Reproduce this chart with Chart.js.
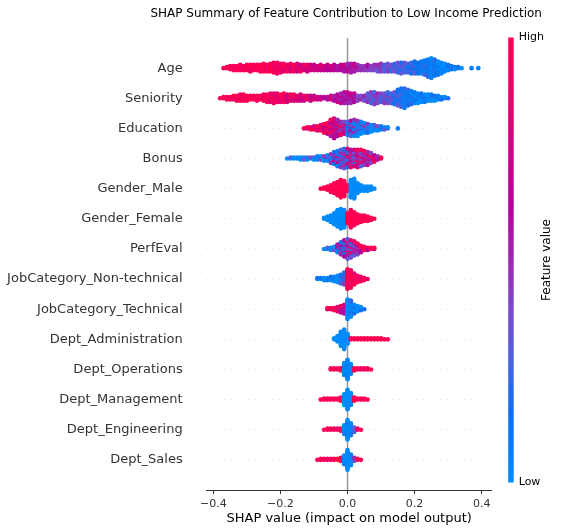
<!DOCTYPE html>
<html>
<head>
<meta charset="utf-8">
<script src="https://cdn.jsdelivr.net/npm/chart.js@4.4.1/dist/chart.umd.min.js"></script>
<style>
  html, body { margin: 0; padding: 0; background: #fff; }
  canvas { display: block; }
</style>
</head>
<body>
<canvas id="shapChart" width="563" height="531"></canvas>
<script>
// feature order, top to bottom
const features = [
    'Age', 'Seniority', 'Education', 'Bonus', 'Gender_Male', 'Gender_Female', 'PerfEval',
    'JobCategory_Non-technical', 'JobCategory_Technical', 'Dept_Administration',
    'Dept_Operations', 'Dept_Management', 'Dept_Engineering', 'Dept_Sales'
];
const xTicks = [-0.4, -0.2, 0, 0.2, 0.4];
const binWidth = 0.01;
// SHAP value of the first bin of each row
const firstBin = [-0.37, -0.38, -0.13, -0.18, -0.08, -0.07, -0.07, -0.09, -0.06, -0.04, -0.05, -0.08, -0.07, -0.09];
// how mixed the colours are inside one bin (0 = all the same)
const colorMix = [0.1, 0.12, 0.3, 0.35, 0, 0, 0.35, 0.15, 0.2, 0, 0.1, 0, 0.1, 0.1];

// how many dots are stacked in each 0.01 bin, and their feature value (0 = low, 1 = high)
const ageCounts = [1,2,4,5,5,6,5,6,7,6, 6,7,8,7,8,10,11,9,8,7, 8,7,8,7,6,7,6,6,5,6,
    5,6,5,6,5,6,7,8,9,8, 6,5,5,6,5,6,7,8,7,8, 7,8,10,11,10,9,11,12,11,12,
    14,17,19,16,13,11,8,6,4,3, 2,1,0,0,1,0,1];
const ageValues = [1,1,1,1,1,1,1,1,1,1, 1,1,1,1,1,0.95,0.95,0.95,0.9,0.9,
    0.9,0.9,0.85,0.85,0.85,0.8,0.8,0.8,0.8,0.75, 0.75,0.7,0.7,0.7,0.65,0.65,0.65,0.6,0.6,0.6,
    0.55,0.55,0.5,0.5,0.45,0.45,0.4,0.4,0.35,0.35, 0.3,0.3,0.3,0.25,0.25,0.2,0.2,0.2,0.15,0.15,
    0.15,0.1,0.1,0.1,0.05,0.05,0.05,0.05,0.05,0.05, 0.05,0.05,0,0,0,0,0];

const seniorityCounts = [1,2,3,3,4,5,6,6,5,4, 4,5,4,6,7,8,9,8,7,8, 7,6,6,5,6,5,4,5,4,3,
    3,2,3,4,5,7,9,10,10,9, 8,5,4,5,8,10,11,9,8,9, 10,9,11,14,16,17,14,12,10,9,
    8,7,6,6,5,4,3,2,1];
const seniorityValues = [1,1,1,1,1,1,1,1,1,1, 1,1,1,1,0.95,0.95,0.95,0.9,0.9,0.9,
    0.85,0.85,0.85,0.85,0.8,0.8,0.8,0.8,0.75,0.75, 0.75,0.7,0.7,0.7,0.65,0.6,0.6,0.6,0.6,0.6,
    0.55,0.5,0.45,0.4,0.4,0.35,0.35,0.4,0.35,0.35, 0.3,0.35,0.25,0.2,0.15,0.15,0.1,0.1,0.1,0.1,
    0.05,0.05,0.05,0.05,0.05,0.05,0.05,0.05,0.05];

const educationCounts = [1,2,3,4,5,6,9,11,16,19, 16,13,12,13,15,16,15,12,10,9, 7,6,5,4,3,2,0,0,1];
const educationValues = [1,1,1,1,1,1,0.95,0.9,0.85,0.8, 0.75,0.65,0.55,0.4,0.3,0.25,0.25,0.2,0.2,0.15,
    0.15,0.1,0.1,0.1,0.05,0.05,0,0,0.05];

const bonusCounts = [1,2,2,2,3,3,3,2,3,4, 4,5,6,9,12,15,17,19,18,17, 16,17,16,14,13,10,7,4,2];
const bonusValues = [0,0,0,0,0,0,0.05,0.05,0.05,0.05, 0.1,0.15,0.2,0.3,0.35,0.4,0.45,0.5,0.5,0.55,
    0.6,0.6,0.65,0.7,0.7,0.75,0.8,0.85,0.9];

const genderMaleCounts = [1,2,4,7,10,13,17,15,6,17,19,10,6,5,5,4,1];
const genderMaleValues = [1,1,1,1,1,1,1,1,1,0,0,0,0,0,0,0,0];

const genderFemaleCounts = [2,4,7,11,16,19,17,10,17,13,9,7,6,5,3,1];
const genderFemaleValues = [0,0,0,0,0,0,0,1,1,1,1,1,1,1,1,1];

const perfEvalCounts = [1,2,3,4,8,12,16,19,17,14,11,7,4,3,2,2];
const perfEvalValues = [0,0,0.05,0.1,0.25,0.35,0.45,0.5,0.55,0.6,0.7,0.8,0.85,0.9,1,1];

const jobNonTechCounts = [2,2,3,3,4,5,7,9,12,19,17,11,7,5,3,1];
const jobNonTechValues = [0,0,0,0,0,0,0,0.1,0.3,1,1,1,1,1,1,1];

const jobTechCounts = [2,2,3,5,7,9,19,16,9,6,4,1];
const jobTechValues = [1,1,1,1,0.7,0.6,0,0,0,0,0,0];

const deptAdminCounts = [2,6,14,19,10,2,2,2,2,2,2,2,2,2,2,1,1];
const deptAdminValues = [0,0,0,0,0,1,1,1,1,1,1,1,1,1,1,1,1];

const deptOpsCounts = [2,2,2,3,12,19,10,3,2,2,2,2,1];
const deptOpsValues = [1,1,1,1,0,0,0,1,1,1,1,1,1];

const deptMgmtCounts = [1,2,2,2,2,2,4,11,19,12,4,2,2,2,1];
const deptMgmtValues = [1,1,1,1,1,1,1,0,0,0,1,1,1,1,1];

const deptEngCounts = [1,2,2,2,2,3,9,19,12,5,2,1];
const deptEngValues = [1,1,1,1,1,1,0,0,0,0.3,1,1];

const deptSalesCounts = [1,2,2,2,2,2,2,4,9,19,11,4,2,1];
const deptSalesValues = [1,1,1,1,1,1,1,1,0,0,0,0.4,1,1];

const stackCounts = [ageCounts, seniorityCounts, educationCounts, bonusCounts, genderMaleCounts,
    genderFemaleCounts, perfEvalCounts, jobNonTechCounts, jobTechCounts, deptAdminCounts,
    deptOpsCounts, deptMgmtCounts, deptEngCounts, deptSalesCounts];
const featureValues = [ageValues, seniorityValues, educationValues, bonusValues, genderMaleValues,
    genderFemaleValues, perfEvalValues, jobNonTechValues, jobTechValues, deptAdminValues,
    deptOpsValues, deptMgmtValues, deptEngValues, deptSalesValues];

// blue -> purple -> red, like shap's red_blue map
const cmapStops = [
    [0.0, [0, 139, 250]], [0.15, [12, 112, 240]], [0.27, [74, 99, 224]],
    [0.38, [122, 76, 205]], [0.5, [155, 42, 176]], [0.62, [180, 0, 154]],
    [0.75, [205, 0, 128]], [0.87, [232, 0, 104]], [1.0, [255, 0, 82]]
];

function cmap(t) {
    t = Math.min(1, Math.max(0, t));
    for (let i = 1; i < cmapStops.length; i++) {
        const [t1, c1] = cmapStops[i];
        const [t0, c0] = cmapStops[i - 1];
        if (t <= t1) {
            const f = (t - t0) / (t1 - t0);
            const c = c0.map((v, k) => Math.round(v + (c1[k] - v) * f));
            return `rgb(${c[0]},${c[1]},${c[2]})`;
        }
    }
    return 'rgb(255,0,82)';
}

const mixPattern = [0, 1, -0.5, -1, 0.5, 0.8, -0.8];

// stack the dots of each bin up/down like shap's beeswarm does
function buildRow(row) {
    const counts = stackCounts[row];
    const values = featureValues[row];
    const maxLayer = Math.max(...counts.map(c => Math.ceil((c - 1) / 2)));
    const unit = 0.36 / (maxLayer + 1);
    const points = [];
    const colors = [];
    counts.forEach((count, b) => {
        const x = +(firstBin[row] + b * binWidth).toFixed(2);
        for (let layer = 0; layer < count; layer++) {
            const off = Math.ceil(layer / 2) * ((layer % 2) * 2 - 1);
            points.push({ x: x, y: row - off * unit });
            const k = (layer * layer + 3 * b + layer * b) % mixPattern.length;
            colors.push(cmap(values[b] + colorMix[row] * mixPattern[k]));
        }
    });
    return {
        data: points,
        pointBackgroundColor: colors,
        pointBorderWidth: 0,
        pointRadius: 2.3,
        pointHoverRadius: 2.3,
    };
}

const rowLines = {
    id: 'rowLines',
    beforeDatasetsDraw(chart) {
        const { ctx, chartArea, scales } = chart;
        ctx.save();
        ctx.strokeStyle = '#cccccc';
        ctx.lineWidth = 0.6;
        ctx.setLineDash([1, 5]);
        features.forEach((f, i) => {
            const y = scales.y.getPixelForValue(i);
            ctx.beginPath();
            ctx.moveTo(chartArea.left, y);
            ctx.lineTo(chartArea.right, y);
            ctx.stroke();
        });
        ctx.setLineDash([]);
        ctx.strokeStyle = '#999999';
        ctx.lineWidth = 1.5;
        const x0 = scales.x.getPixelForValue(0);
        ctx.beginPath();
        ctx.moveTo(x0, chartArea.top);
        ctx.lineTo(x0, chartArea.bottom);
        ctx.stroke();
        ctx.restore();
    }
};

// title over the axes plus the colour bar on the right
const decorations = {
    id: 'decorations',
    afterDraw(chart) {
        const { ctx, chartArea } = chart;
        ctx.save();
        ctx.fillStyle = '#000';
        ctx.font = '12px "DejaVu Sans"';
        ctx.textAlign = 'center';
        ctx.textBaseline = 'middle';
        ctx.fillText('SHAP Summary of Feature Contribution to Low Income Prediction',
            (chartArea.left + chartArea.right) / 2 - 3, 13.5);

        const left = chartArea.right + 16.5;
        const width = 5.5;
        const top = chartArea.top - 0.5;
        const bottom = chartArea.bottom - 7.5;
        const grad = ctx.createLinearGradient(0, bottom, 0, top);
        cmapStops.forEach(([t, c]) => grad.addColorStop(t, `rgb(${c[0]},${c[1]},${c[2]})`));
        ctx.fillStyle = grad;
        ctx.fillRect(left, top, width, bottom - top);
        ctx.fillStyle = '#000';
        ctx.font = '11px "DejaVu Sans"';
        ctx.textAlign = 'left';
        ctx.fillText('High', left + width + 5, top);
        ctx.fillText('Low', left + width + 5, bottom);
        ctx.translate(left + 39, (top + bottom) / 2);
        ctx.rotate(-Math.PI / 2);
        ctx.textAlign = 'center';
        ctx.font = '12px "DejaVu Sans"';
        ctx.fillText('Feature value', 0, 0);
        ctx.restore();
    }
};

const ctx = document.getElementById('shapChart').getContext('2d');
const shapChart = new Chart(ctx, {
    type: 'scatter',
    data: { datasets: features.map((f, i) => buildRow(i)) },
    options: {
        responsive: false,
        animation: false,
        events: [],
        layout: { padding: { left: 0, right: 71.3, top: 38, bottom: 0 } },
        plugins: {
            legend: { display: false },
            tooltip: { enabled: false },
            title: { display: false },
        },
        scales: {
            x: {
                type: 'linear',
                min: -0.42,
                max: 0.43,
                afterBuildTicks: (scale) => { scale.ticks = xTicks.map(v => ({ value: v })); },
                afterFit: (scale) => { scale.height = 41; },
                grid: { drawOnChartArea: false, drawTicks: true, tickLength: 4, tickColor: '#333', tickWidth: 1 },
                border: { display: true, color: '#333', width: 1 },
                ticks: {
                    color: '#333',
                    padding: 4,
                    font: { family: 'DejaVu Sans', size: 11 },
                    callback: (v) => (v < 0 ? '\u2212' : '') + Math.abs(v).toFixed(1),
                },
                title: {
                    display: true,
                    text: 'SHAP value (impact on model output)',
                    color: '#000',
                    font: { family: 'DejaVu Sans', size: 13 },
                    padding: { top: 5, bottom: 5 },
                },
            },
            y: {
                type: 'linear',
                reverse: true,
                min: -1,
                max: features.length,
                afterBuildTicks: (scale) => { scale.ticks = features.map((f, i) => ({ value: i })); },
                afterFit: (scale) => { scale.width = 206.7; },
                grid: { display: false, drawTicks: false },
                border: { display: false },
                ticks: {
                    color: '#333',
                    padding: 24,
                    autoSkip: false,
                    font: { family: 'DejaVu Sans', size: 13 },
                    callback: (v) => features[v],
                },
            },
        },
    },
    plugins: [rowLines, decorations],
});
</script>
</body>
</html>
